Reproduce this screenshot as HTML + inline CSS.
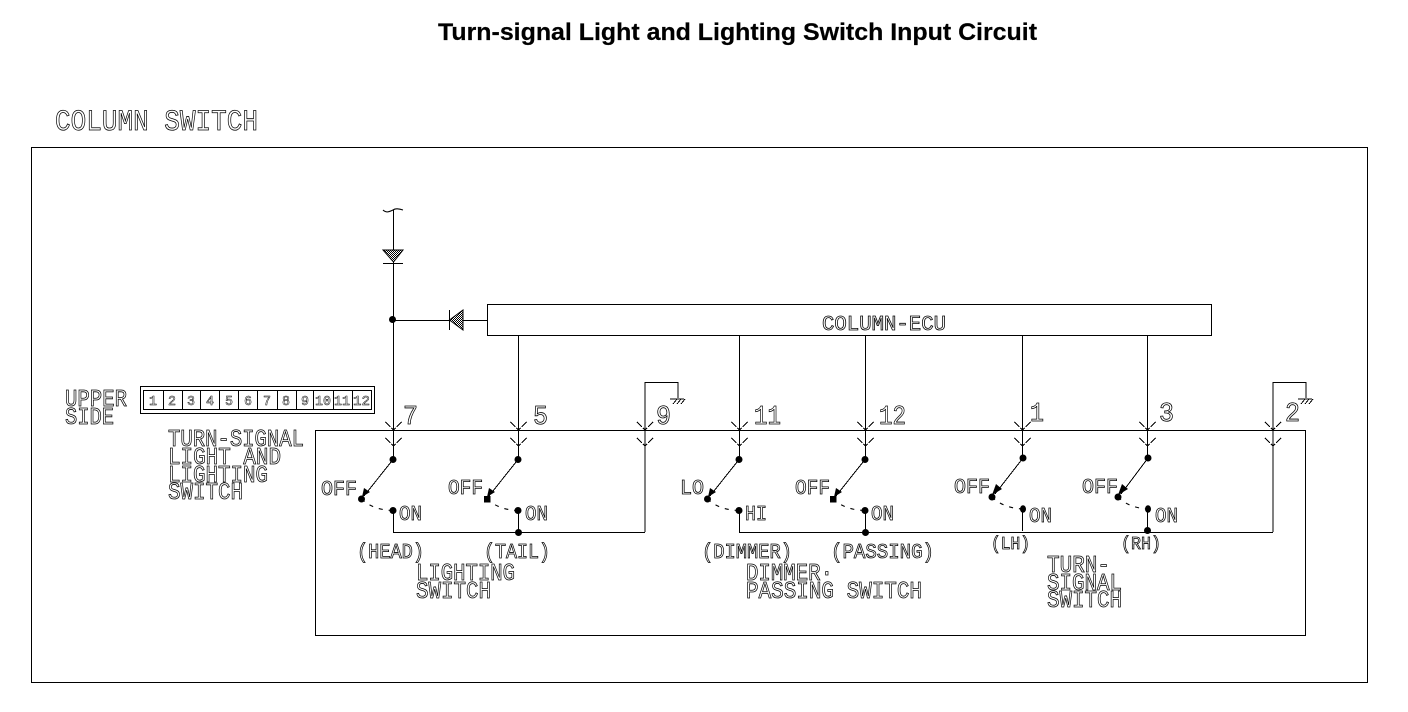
<!DOCTYPE html>
<html><head><meta charset="utf-8"><title>Turn-signal Light and Lighting Switch Input Circuit</title>
<style>
html,body{margin:0;padding:0;background:#fff;width:1408px;height:712px;overflow:hidden}
svg{display:block}
.l{stroke:#000;stroke-width:1.2;fill:none;shape-rendering:crispEdges}
.a{stroke:#000;stroke-width:1;fill:none;shape-rendering:crispEdges}
.c{stroke:#000;stroke-width:1.1;fill:none}
.t{font-family:"Liberation Mono",monospace;fill:#fff;fill-opacity:0;stroke:#000;stroke-width:.8}
.s14{font-size:21px}.s16{font-size:24px}.s12{font-size:18px}.s10{font-size:14px}.s18{font-size:27px}.s20{font-size:30px}
.title{font-family:"Liberation Sans",sans-serif;font-weight:bold;font-size:24px;fill:#000;stroke:#000;stroke-width:.2}
</style></head><body>
<svg width="1408" height="712" viewBox="0 0 1408 712" xmlns="http://www.w3.org/2000/svg">
<defs>
<pattern id="h" width="2" height="2" patternUnits="userSpaceOnUse"><rect width="2" height="2" fill="#fff"/><rect width="1" height="1" fill="#000"/><rect x="1" y="1" width="1" height="1" fill="#000"/></pattern>
<g id="v"><path class="a" d="M-8 -8L-3 -3M3 -3L8 -8M-2 -2L0 0L2 -2"/></g>
</defs>
<rect width="1408" height="712" fill="#fff"/>
<text class="title" x="438" y="40" textLength="599" lengthAdjust="spacingAndGlyphs">Turn-signal Light and Lighting Switch Input Circuit</text>
<text class="t s20" x="55" y="130" textLength="203" lengthAdjust="spacingAndGlyphs">COLUMN SWITCH</text>

<rect class="l" x="31.500" y="147.500" width="1336" height="535"/>
<rect class="l" x="315.500" y="430.500" width="990" height="205"/>
<rect class="l" x="487.500" y="304.500" width="724" height="31"/>
<text class="t s14" x="822" y="330" textLength="124" lengthAdjust="spacingAndGlyphs">COLUMN-ECU</text>

<!-- power feed -->
<path class="c" d="M383 210C386 213 389 212 393 210C396 208 399 209 403 210"/>
<path class="l" d="M393.500 210V459M383 263.500H403M393 320.500H487M518.500 335V459M645 532V382.500H678V398M739.500 335V459M865.500 335V459M1022.500 335V458M1147.500 335V458M1273 532V382.500H1306V398"/>
<polygon points="383,250 403,250 393.500,262" fill="url(#h)" stroke="#000" stroke-width="1"/>
<path class="l" d="M449.500 310V330"/>
<polygon points="449.500,320 463,310 463,330" fill="url(#h)" stroke="#000" stroke-width="1"/>
<circle cx="392.500" cy="319.500" r="3.500"/>

<!-- ground symbols -->
<path class="a" d="M670 399H684M673 404L677 399M677 404L681 399M681 404L685 399"/>
<path class="a" d="M1298 399H1312M1301 404L1305 399M1305 404L1309 399M1309 404L1313 399"/>

<!-- connector chevrons -->
<use href="#v" x="393.500" y="430"/><use href="#v" x="393.500" y="446"/>
<use href="#v" x="518.500" y="430"/><use href="#v" x="518.500" y="446"/>
<use href="#v" x="645" y="430"/><use href="#v" x="645" y="446"/>
<use href="#v" x="739.500" y="430"/><use href="#v" x="739.500" y="446"/>
<use href="#v" x="865.500" y="430"/><use href="#v" x="865.500" y="446"/>
<use href="#v" x="1022.500" y="430"/><use href="#v" x="1022.500" y="446"/>
<use href="#v" x="1147.500" y="430"/><use href="#v" x="1147.500" y="446"/>
<use href="#v" x="1273" y="430"/><use href="#v" x="1273" y="446"/>

<!-- bottom bus -->
<path class="l" d="M393.500 510V532.500H645M518.500 510V532M739.500 510V532.500H1273M865.500 510V532M1022.500 509V531M1147.500 509V531"/>
<circle cx="518.500" cy="532.500" r="3.500"/><circle cx="865.500" cy="532.500" r="3.500"/><circle cx="1147.500" cy="530.500" r="3.500"/>

<!-- switches -->
<g>
<circle cx="393" cy="459.500" r="3.500"/><circle cx="361.500" cy="499" r="3.500"/><circle cx="393" cy="510.500" r="3.500"/>
<path class="a" d="M393 459.500L364 496"/><polygon points="362,497 364,488 370,492"/>
<path class="c" d="M361.500 499Q373 510 393 510.500" stroke-dasharray="4 6"/>
</g>
<g>
<circle cx="518" cy="459.500" r="3.500"/><rect x="484" y="496" width="6.500" height="6.500"/><circle cx="518" cy="510.500" r="3.500"/>
<path class="a" d="M518 459.500L489 496"/><polygon points="487,497 489,488 495,492"/>
<path class="c" d="M487 499Q499 510 518 510.500" stroke-dasharray="4 6"/>
</g>
<g>
<circle cx="739" cy="459.500" r="3.500"/><circle cx="707.500" cy="499" r="3.500"/><circle cx="739" cy="510.500" r="3.500"/>
<path class="a" d="M739 459.500L710 496"/><polygon points="708,497 710,488 716,492"/>
<path class="c" d="M707.500 499Q719 510 739 510.500" stroke-dasharray="4 6"/>
</g>
<g>
<circle cx="865" cy="459.500" r="3.500"/><rect x="830" y="496" width="6.500" height="6.500"/><circle cx="865" cy="510.500" r="3.500"/>
<path class="a" d="M865 459.500L836 496"/><polygon points="834,497 836,488 842,492"/>
<path class="c" d="M833 499Q845 510 865 510.500" stroke-dasharray="4 6"/>
</g>
<g>
<circle cx="1023" cy="458" r="3.500"/><circle cx="992" cy="497" r="3.500"/><ellipse cx="1023" cy="509" rx="3" ry="3.800"/>
<path class="a" d="M1023 458L995 494"/><polygon points="992,495 996,484 1002,489"/>
<path class="c" d="M992 497Q1003 508 1023 509" stroke-dasharray="4 6"/>
</g>
<g>
<circle cx="1148" cy="458" r="3.500"/><circle cx="1118" cy="497" r="3.500"/><ellipse cx="1148" cy="509" rx="3" ry="3.800"/>
<path class="a" d="M1148 458L1121 494"/><polygon points="1118,495 1122,484 1128,489"/>
<path class="c" d="M1118 497Q1129 508 1148 509" stroke-dasharray="4 6"/>
</g>

<!-- pin numbers -->
<text class="t s18" x="403" y="424" textLength="15" lengthAdjust="spacingAndGlyphs">7</text>
<text class="t s18" x="533" y="424" textLength="15" lengthAdjust="spacingAndGlyphs">5</text>
<text class="t s18" x="656" y="424" textLength="15" lengthAdjust="spacingAndGlyphs">9</text>
<text class="t s18" x="754" y="424" textLength="27" lengthAdjust="spacingAndGlyphs">11</text>
<text class="t s18" x="879" y="424" textLength="27" lengthAdjust="spacingAndGlyphs">12</text>
<text class="t s18" x="1030" y="421" textLength="14" lengthAdjust="spacingAndGlyphs">1</text>
<text class="t s18" x="1159" y="421" textLength="15" lengthAdjust="spacingAndGlyphs">3</text>
<text class="t s18" x="1285" y="421" textLength="15" lengthAdjust="spacingAndGlyphs">2</text>

<!-- connector table -->
<rect class="l" x="140.500" y="386.500" width="234" height="27"/>
<rect class="l" x="143.500" y="390.500" width="228" height="19"/>
<path class="l" d="M163.500 390V409M182.500 390V409M200.500 390V409M219.500 390V409M238.500 390V409M257.500 390V409M277.500 390V409M296.500 390V409M313.500 390V409M333.500 390V409M352.500 390V409"/>
<g class="t s10" style="stroke-width:.5">
<text x="149" y="405" textLength="8" lengthAdjust="spacingAndGlyphs">1</text>
<text x="168" y="405" textLength="8" lengthAdjust="spacingAndGlyphs">2</text>
<text x="187" y="405" textLength="8" lengthAdjust="spacingAndGlyphs">3</text>
<text x="206" y="405" textLength="8" lengthAdjust="spacingAndGlyphs">4</text>
<text x="225" y="405" textLength="8" lengthAdjust="spacingAndGlyphs">5</text>
<text x="244" y="405" textLength="8" lengthAdjust="spacingAndGlyphs">6</text>
<text x="263" y="405" textLength="8" lengthAdjust="spacingAndGlyphs">7</text>
<text x="282" y="405" textLength="8" lengthAdjust="spacingAndGlyphs">8</text>
<text x="301" y="405" textLength="8" lengthAdjust="spacingAndGlyphs">9</text>
<text x="315" y="405" textLength="16" lengthAdjust="spacingAndGlyphs">10</text>
<text x="334" y="405" textLength="16" lengthAdjust="spacingAndGlyphs">11</text>
<text x="353" y="405" textLength="17" lengthAdjust="spacingAndGlyphs">12</text>
</g>

<!-- left labels -->
<text class="t s16" x="65" y="406" textLength="62" lengthAdjust="spacingAndGlyphs">UPPER</text>
<text class="t s16" x="65" y="424" textLength="49" lengthAdjust="spacingAndGlyphs">SIDE</text>
<text class="t s16" x="168" y="446" textLength="136" lengthAdjust="spacingAndGlyphs">TURN-SIGNAL</text>
<text class="t s16" x="168" y="464" textLength="113" lengthAdjust="spacingAndGlyphs">LIGHT AND</text>
<text class="t s16" x="168" y="482" textLength="100" lengthAdjust="spacingAndGlyphs">LIGHTING</text>
<text class="t s16" x="168" y="499" textLength="75" lengthAdjust="spacingAndGlyphs">SWITCH</text>

<!-- switch labels -->
<text class="t s14" x="321" y="495" textLength="36" lengthAdjust="spacingAndGlyphs">OFF</text>
<text class="t s14" x="399" y="520" textLength="23" lengthAdjust="spacingAndGlyphs">ON</text>
<text class="t s14" x="448" y="494" textLength="35" lengthAdjust="spacingAndGlyphs">OFF</text>
<text class="t s14" x="525" y="520" textLength="23" lengthAdjust="spacingAndGlyphs">ON</text>
<text class="t s14" x="680" y="494" textLength="24" lengthAdjust="spacingAndGlyphs">LO</text>
<text class="t s14" x="745" y="520" textLength="22" lengthAdjust="spacingAndGlyphs">HI</text>
<text class="t s14" x="795" y="494" textLength="35" lengthAdjust="spacingAndGlyphs">OFF</text>
<text class="t s14" x="871" y="520" textLength="23" lengthAdjust="spacingAndGlyphs">ON</text>
<text class="t s14" x="954" y="493" textLength="36" lengthAdjust="spacingAndGlyphs">OFF</text>
<text class="t s14" x="1029" y="522" textLength="23" lengthAdjust="spacingAndGlyphs">ON</text>
<text class="t s14" x="1082" y="493" textLength="36" lengthAdjust="spacingAndGlyphs">OFF</text>
<text class="t s14" x="1155" y="522" textLength="23" lengthAdjust="spacingAndGlyphs">ON</text>

<text class="t s14" x="357" y="558" textLength="67" lengthAdjust="spacingAndGlyphs">(HEAD)</text>
<text class="t s14" x="484" y="558" textLength="66" lengthAdjust="spacingAndGlyphs">(TAIL)</text>
<text class="t s14" x="702" y="558" textLength="90" lengthAdjust="spacingAndGlyphs">(DIMMER)</text>
<text class="t s14" x="831" y="558" textLength="103" lengthAdjust="spacingAndGlyphs">(PASSING)</text>
<text class="t s12" x="991" y="549" textLength="39" lengthAdjust="spacingAndGlyphs">(LH)</text>
<text class="t s12" x="1121" y="549" textLength="40" lengthAdjust="spacingAndGlyphs">(RH)</text>

<text class="t s16" x="416" y="580" textLength="99" lengthAdjust="spacingAndGlyphs">LIGHTING</text>
<text class="t s16" x="416" y="598" textLength="75" lengthAdjust="spacingAndGlyphs">SWITCH</text>
<text class="t s16" x="746" y="580" textLength="87" lengthAdjust="spacingAndGlyphs">DIMMER·</text>
<text class="t s16" x="746" y="598" textLength="176" lengthAdjust="spacingAndGlyphs">PASSING SWITCH</text>
<text class="t s16" x="1047" y="572" textLength="63" lengthAdjust="spacingAndGlyphs">TURN-</text>
<text class="t s16" x="1047" y="590" textLength="75" lengthAdjust="spacingAndGlyphs">SIGNAL</text>
<text class="t s16" x="1047" y="607" textLength="75" lengthAdjust="spacingAndGlyphs">SWITCH</text>
</svg>
</body></html>
